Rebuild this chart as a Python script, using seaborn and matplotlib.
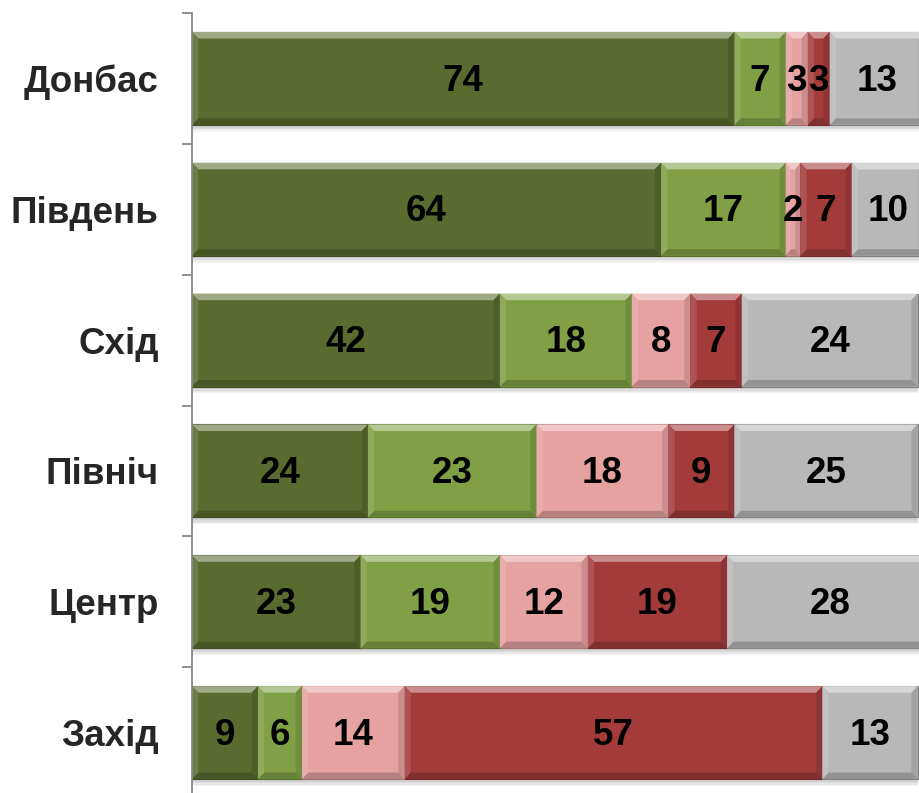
import numpy as np
import pandas as pd
import matplotlib
matplotlib.use("Agg")
import matplotlib.pyplot as plt
import matplotlib.colors as mcolors
from matplotlib import patheffects as pe
from matplotlib.patches import Polygon
import seaborn as sns

# ---- data ----
categories = ["Донбас", "Південь", "Схід", "Північ", "Центр", "Захід"]
series_names = ["Ряд 1", "Ряд 2", "Ряд 3", "Ряд 4", "Ряд 5"]
s1 = [74, 64, 42, 24, 23, 9]
s2 = [7, 17, 18, 23, 19, 6]
s3 = [3, 2, 8, 18, 12, 14]
s4 = [3, 7, 7, 9, 19, 57]
s5 = [13, 10, 24, 25, 28, 13]
series_values = [s1, s2, s3, s4, s5]
colors = ["#5A6B2F", "#7FA045", "#E6A1A1", "#A33B3B", "#B8B8B8"]

sns.set_theme(style="white")
plt.rcParams["font.family"] = ["Liberation Sans", "DejaVu Sans"]

fig = plt.figure(figsize=(9.19, 7.93), dpi=100)
ax = fig.add_axes([192 / 919, -5 / 793, 733 / 919, 785 / 793])


def shade(c, f):
    r = np.array(mcolors.to_rgb(c))
    if f >= 0:
        r = r + (1 - r) * f
    else:
        r = r * (1 + f)
    return tuple(np.clip(r, 0, 1))


shadow = [pe.SimplePatchShadow(offset=(0, -k), shadow_rgbFace="k", alpha=0.05)
          for k in (5, 4, 3, 2, 1)] + [pe.Normal()]

lefts = np.zeros(len(categories))
for name, vals, col in zip(series_names, series_values, colors):
    df = pd.DataFrame({"category": categories, "value": vals})
    n_before = len(ax.patches)
    sns.barplot(data=df, x="value", y="category", orient="h", color=col,
                saturation=1, width=0.71, left=lefts.copy(), ax=ax,
                edgecolor=shade(col, -0.3), linewidth=0.8, errorbar=None)
    new_patches = ax.patches[n_before:]
    for p in new_patches:
        p.set_path_effects(shadow)
        x0, y0 = p.get_x(), p.get_y()
        w, h = p.get_width(), p.get_height()
        x1, y1 = x0 + w, y0 + h
        bx = min(0.85, w / 3)
        by = 0.05
        polys = [
            ([(x0, y0), (x1, y0), (x1 - bx, y0 + by), (x0 + bx, y0 + by)], shade(col, 0.42)),
            ([(x0, y1), (x1, y1), (x1 - bx, y1 - by), (x0 + bx, y1 - by)], shade(col, -0.2)),
            ([(x0, y0), (x0 + bx, y0 + by), (x0 + bx, y1 - by), (x0, y1)], shade(col, 0.12)),
            ([(x1, y0), (x1 - bx, y0 + by), (x1 - bx, y1 - by), (x1, y1)], shade(col, -0.12)),
        ]
        for verts, fc in polys:
            ax.add_patch(Polygon(verts, closed=True, facecolor=fc, edgecolor="none",
                                 zorder=p.get_zorder() + 0.1))
    for i, v in enumerate(vals):
        ax.text(lefts[i] + v / 2, i + 0.02, str(v), ha="center", va="center",
                fontsize=26.5, fontweight="bold", color="black", zorder=5)
    lefts = lefts + np.array(vals)

ax.set_xlim(0, 100)
ax.set_ylim(5.5, -0.5)
ax.set_xlabel("")
ax.set_ylabel("")
ax.set_xticks([])
ax.set_yticks(np.arange(-0.5, 6.0, 1.0))
ax.set_yticklabels([])
ax.set_yticks(range(len(categories)), minor=True)
ax.set_yticklabels(categories, minor=True, fontsize=26.5, fontweight="bold")
ax.tick_params(axis="y", which="major", length=7.5, width=1.3, color="#868686",
               direction="out", left=True)
ax.tick_params(axis="y", which="minor", length=0, pad=24, left=True)
for s in ["top", "right", "bottom"]:
    ax.spines[s].set_visible(False)
ax.spines["left"].set_color("#868686")
ax.spines["left"].set_linewidth(1.3)
ax.set_facecolor("white")
fig.patch.set_facecolor("white")

fig.savefig("out.png", dpi=100)
